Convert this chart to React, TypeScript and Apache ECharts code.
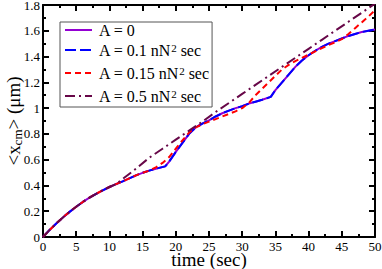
import React, { useEffect, useRef } from "react";
import * as echarts from "echarts";

const seriesNames = ["A = 0", "A = 0.1 nN² sec", "A = 0.15 nN² sec", "A = 0.5 nN² sec"];
const legendLabels = [
  "A = 0",
  "A = 0.1 nN{sup|2} sec",
  "A = 0.15 nN{sup|2} sec",
  "A = 0.5 nN{sup|2} sec",
];
const seriesColors = ["#9400D3", "#0000FF", "#FF0000", "#670748"];

// A = 0 and A = 0.1 overlap
const tBase = [0, 1, 2, 3, 4, 5, 6, 7, 8, 9, 10, 11, 12, 13, 14, 15, 16, 17, 18.4, 19, 20, 21, 22, 23, 24, 25, 26, 27, 28, 29, 30, 31, 32, 33, 34.3, 35, 36, 37, 38, 39, 40, 41, 42, 43, 44, 45, 46, 47, 48, 49, 50];
const yBase = [0, 0.055, 0.105, 0.152, 0.195, 0.235, 0.272, 0.305, 0.335, 0.362, 0.388, 0.41, 0.432, 0.455, 0.478, 0.498, 0.515, 0.53, 0.548, 0.585, 0.66, 0.73, 0.8, 0.85, 0.88, 0.905, 0.935, 0.96, 0.98, 1.0, 1.015, 1.035, 1.05, 1.065, 1.087, 1.14, 1.2, 1.26, 1.32, 1.37, 1.41, 1.445, 1.475, 1.5, 1.52, 1.54, 1.56, 1.575, 1.59, 1.6, 1.61];

const tA015 = [0, 1, 2, 3, 4, 5, 6, 7, 8, 9, 10, 11, 12, 13, 14, 15, 16, 17, 18, 19, 20, 21, 22, 23, 24, 25, 26, 27, 28, 29, 30, 31, 32, 33, 34, 35, 36, 37, 38, 39, 40, 41, 42, 43, 44, 45, 46, 47, 48, 49, 50];
const yA015 = [0, 0.055, 0.105, 0.152, 0.195, 0.235, 0.272, 0.305, 0.335, 0.362, 0.388, 0.41, 0.432, 0.455, 0.478, 0.498, 0.515, 0.54, 0.575, 0.62, 0.685, 0.75, 0.81, 0.85, 0.875, 0.895, 0.915, 0.935, 0.955, 0.975, 1.0, 1.04, 1.1, 1.15, 1.2, 1.25, 1.3, 1.335, 1.365, 1.39, 1.415, 1.44, 1.465, 1.49, 1.51, 1.535, 1.575, 1.62, 1.665, 1.71, 1.76];

const tA05 = [0, 1, 2, 3, 4, 5, 6, 7, 8, 9, 10, 11, 12, 14, 16, 18, 20, 22, 24, 26, 28, 30, 32, 34, 36, 38, 40, 42, 44, 46, 48, 50];
const yA05 = [0, 0.055, 0.105, 0.152, 0.195, 0.235, 0.272, 0.305, 0.335, 0.362, 0.388, 0.41, 0.45, 0.53, 0.615, 0.685, 0.755, 0.825, 0.895, 0.97, 1.04, 1.11, 1.18, 1.25, 1.32, 1.39, 1.46, 1.53, 1.6, 1.67, 1.74, 1.81];

const xTicks = { min: 0, max: 50, interval: 5 };
const yTicks = { min: 0, max: 1.8, interval: 0.2 };

const FONT = "Liberation Serif";

function pairs(t: number[], y: number[]) {
  return t.map((v, i) => [v, y[i]]);
}

export default function App() {
  const ref = useRef<HTMLDivElement>(null);
  useEffect(() => {
    if (!ref.current) return;
    const chart = echarts.init(ref.current, undefined, { renderer: "svg" });
    const axisCommon = {
      type: "value",
      axisLine: { show: true, onZero: false, lineStyle: { color: "#000", width: 2 } },
      axisTick: { show: true, inside: true, length: 6, lineStyle: { color: "#000", width: 2 } },
      minorTick: { show: true, splitNumber: 2, length: 3, lineStyle: { color: "#000", width: 2 } },
      splitLine: { show: false },
      minorSplitLine: { show: false },
    };
    const labelStyle = { fontFamily: FONT, fontSize: 13, color: "#000", lineHeight: 11 };
    const dashes = [null, [11, 4], [6, 4], [10, 4, 2, 4]];
    const datasets = [
      pairs(tBase, yBase),
      pairs(tBase, yBase),
      pairs(tA015, yA015),
      pairs(tA05, yA05),
    ];
    chart.setOption({
      animation: false,
      textStyle: { fontFamily: FONT },
      grid: { left: 43, right: 7, top: 5, bottom: 32, containLabel: false, outerBoundsMode: "none" },
      xAxis: [
        {
          ...axisCommon,
          ...xTicks,
          position: "bottom",
          axisLabel: { ...labelStyle, margin: 4 },
          name: "time (sec)",
          nameLocation: "middle",
          nameGap: 15,
          nameMoveOverlap: false,
          nameTextStyle: { fontFamily: FONT, fontSize: 19, color: "#000", verticalAlign: "top", lineHeight: 15 },
        },
        {
          ...axisCommon,
          ...xTicks,
          position: "top",
          axisLabel: { show: false },
        },
      ],
      yAxis: [
        {
          ...axisCommon,
          ...yTicks,
          position: "left",
          axisLabel: { ...labelStyle, margin: 3 },
          name: "{m|<x}{sub|cm}{m|> (μm)}",
          nameLocation: "middle",
          nameGap: 19,
          nameMoveOverlap: false,
          nameRotate: 90,
          nameTextStyle: {
            fontFamily: FONT,
            fontSize: 19,
            color: "#000",
            rich: {
              m: { fontFamily: FONT, fontSize: 19, color: "#000", lineHeight: 22 },
              sub: { fontFamily: FONT, fontSize: 13, color: "#000", lineHeight: 13, verticalAlign: "bottom" },
            },
          },
        },
        {
          ...axisCommon,
          ...yTicks,
          position: "right",
          axisLabel: { show: false },
        },
      ],
      legend: {
        show: true,
        orient: "vertical",
        left: 60,
        top: 22,
        padding: [0, 3, 0, 4],
        itemGap: 4,
        itemWidth: 27,
        itemHeight: 14,
        borderColor: "#555",
        borderWidth: 1,
        backgroundColor: "#fff",
        itemStyle: { color: "transparent", borderWidth: 0, opacity: 0 },
        data: seriesNames,
        formatter: (name: string) => legendLabels[seriesNames.indexOf(name)],
        textStyle: {
          fontFamily: FONT,
          fontSize: 16,
          color: "#000",
          lineHeight: 16,
          padding: [0, 0, 0, 2],
          rich: {
            sup: { fontFamily: FONT, fontSize: 11, color: "#000", lineHeight: 16, verticalAlign: "top", padding: [0, 0, 8, 0] },
          },
        },
      },
      series: seriesNames.map((n, i) => ({
        name: n,
        type: "line",
        xAxisIndex: 0,
        yAxisIndex: 0,
        data: datasets[i],
        showSymbol: false,
        symbol: "none",
        smooth: false,
        clip: true,
        lineStyle: {
          color: seriesColors[i],
          width: 2,
          type: dashes[i] ? dashes[i] : "solid",
        },
        itemStyle: { color: seriesColors[i] },
      })),
    });
    return () => chart.dispose();
  }, []);
  return (
    <div
      ref={ref}
      style={{ position: "fixed", left: 0, top: 0, width: 382, height: 269, background: "#fff" }}
    />
  );
}
